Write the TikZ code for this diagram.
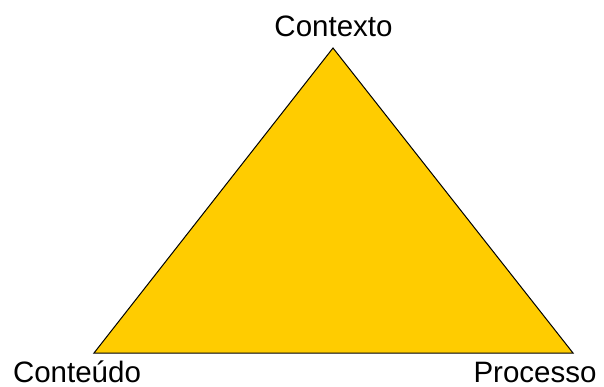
\documentclass[tikz,border=0pt]{standalone}
\usepackage{fontspec}
\setmainfont{Liberation Sans}
\usepackage{xcolor}
\definecolor{ouro}{RGB}{255,204,0}

\begin{document}
\begin{tikzpicture}[x=1pt, y=-1pt, every node/.style={font=\fontsize{29.5}{33}\selectfont, inner sep=0pt}]
    \useasboundingbox (0,0) rectangle (604,387);
    % Vertices
    \coordinate (topo) at (333,48);
    \coordinate (esq) at (94,353);
    \coordinate (dir) at (573,353);

    % Triangle
    \filldraw[fill=ouro, draw=black, line width=1pt] (topo) -- (esq) -- (dir) -- cycle;

    % Labels
    \node[anchor=base] (contexto) at (333.5,37) {Contexto};
    \node[anchor=base] (conteudo) at (77,382) {Conteúdo};
    \node[anchor=base] (processo) at (535,382) {Processo};
\end{tikzpicture}
\end{document}
